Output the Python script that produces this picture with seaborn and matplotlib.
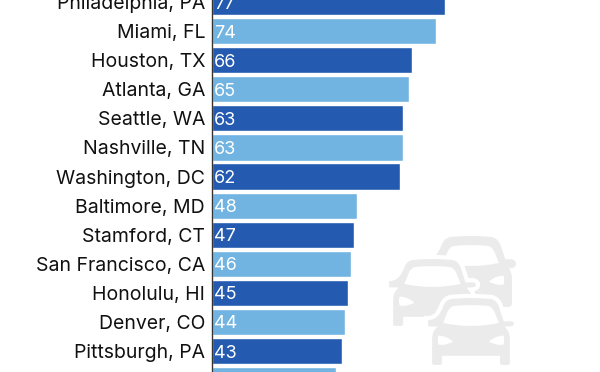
import matplotlib
matplotlib.use('Agg')
import matplotlib.pyplot as plt
import pandas as pd
import seaborn as sns
from matplotlib.patches import PathPatch
from matplotlib.path import Path

cities = ['Philadelphia, PA', 'Miami, FL', 'Houston, TX', 'Atlanta, GA', 'Seattle, WA',
          'Nashville, TN', 'Washington, DC', 'Baltimore, MD', 'Stamford, CT',
          'San Francisco, CA', 'Honolulu, HI', 'Denver, CO', 'Pittsburgh, PA', '']
hours = [77, 74, 66, 65, 63, 63, 62, 48, 47, 46, 45, 44, 43, 41]
dark = '#245BB1'
light = '#72B4E1'
icon = '#EBEBEB'

sns.set_theme(style='white')
plt.rcParams['font.family'] = ['Inter', 'DejaVu Sans']

df = pd.DataFrame({'city': [f'{c}#{i}' for i, c in enumerate(cities)], 'hours': hours})
palette = [dark if i % 2 == 0 else light for i in range(len(hours))]

fig = plt.figure(figsize=(6, 3.72), dpi=100)
ax = fig.add_axes([212 / 600, 0, 388 / 600, 1])
sns.barplot(data=df, x='hours', y='city', hue='city', palette=palette, legend=False,
            width=0.9, saturation=1, ax=ax)
ax.set_xlim(0, 388 / 3.03)
ax.set_xlabel('')
ax.set_ylabel('')
ax.set_xticks([])
ax.set_yticks(range(len(cities)))
ax.set_yticklabels(cities, fontsize=14, color='#111111', va='center_baseline')
# one row = 29.09 px, first row centre at y=2 (set after the ticks, they widen the limits)
ax.set_ylim((372 - 2) / 29.09, -2 / 29.09)
ax.tick_params(axis='y', length=0, pad=5)
for name in ['top', 'right', 'bottom']:
    ax.spines[name].set_visible(False)
ax.spines['left'].set_color('#333333')
ax.spines['left'].set_linewidth(1)

for i, v in enumerate(hours):
    ax.text(0.7, i, str(v), color='white', fontsize=13, va='center_baseline', ha='left', clip_on=True)

# traffic icon, drawn on a pixel overlay
ov = fig.add_axes([0, 0, 1, 1], facecolor='none')
ov.set_xlim(0, 600)
ov.set_ylim(372, 0)
ov.axis('off')

M, L, C, Z = Path.MOVETO, Path.LINETO, Path.CURVE3, Path.CLOSEPOLY
car_shape = [
    (M, .27, 0), (C, .50, -.03), (C, .73, 0), (C, .80, .02), (C, .83, .12), (L, .88, .32),
    (C, 1, .30), (C, 1, .38), (C, 1, .45), (L, .92, .45), (C, .955, .50), (C, .955, .60),
    (L, .955, .95), (C, .955, 1), (C, .90, 1), (L, .85, 1), (C, .80, 1), (C, .80, .95),
    (L, .80, .87), (L, .20, .87), (L, .20, .95), (C, .20, 1), (C, .15, 1), (L, .10, 1),
    (C, .045, 1), (C, .045, .95), (L, .045, .60), (C, .045, .50), (C, .08, .45), (L, 0, .45),
    (C, 0, .38), (C, 0, .30), (C, .12, .32), (L, .17, .12), (C, .20, .02), (C, .27, 0),
    (Z, .27, 0),
]
glass = [
    (M, .30, .13), (C, .50, .10), (C, .70, .13), (C, .74, .15), (C, .76, .21), (L, .81, .37),
    (C, .50, .46), (C, .19, .37), (L, .24, .21), (C, .26, .15), (C, .30, .13), (Z, .30, .13),
]
lamp_l = [(M, .14, .55), (C, .24, .56), (C, .30, .64), (C, .20, .70), (C, .14, .68),
          (C, .12, .60), (C, .14, .55), (Z, .14, .55)]
lamp_r = [(c, 1 - x, y) for c, x, y in lamp_l]


def shape(points, x0, y0, w, h, **kw):
    codes = [p[0] for p in points]
    verts = [(x0 + p[1] * w, y0 + p[2] * h) for p in points]
    ov.add_patch(PathPatch(Path(verts, codes), **kw))


def car(x0, y0, w, h, outline):
    shape(car_shape, x0, y0, w, h, fc=icon, ec='white' if outline else 'none', lw=3)
    for part in [glass, lamp_l, lamp_r]:
        shape(part, x0, y0, w, h, fc='white', ec='none')


car(426, 237, 90, 70, False)
car(387, 258, 91, 70, True)
car(426, 297, 90, 70, True)

fig.savefig('out.png', dpi=100)
